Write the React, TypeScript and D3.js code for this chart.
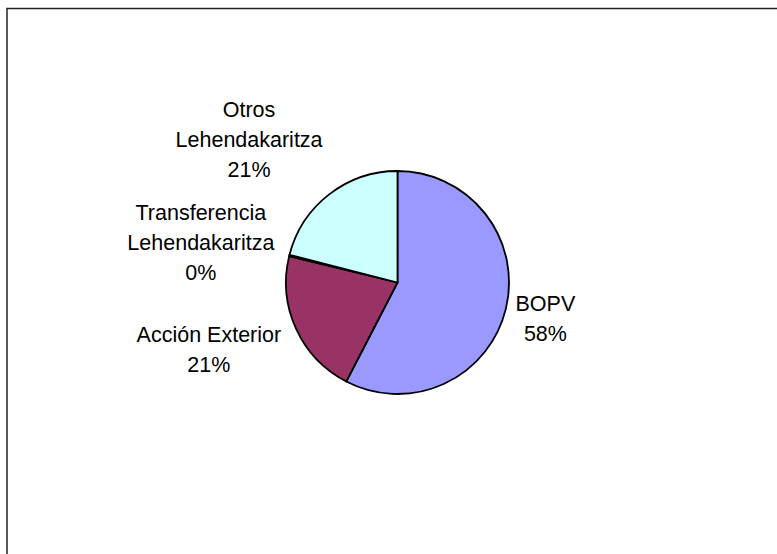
import { useMemo } from 'react';
import * as d3 from 'd3';

// Slice names (line-broken as in the original) and shares, clockwise from 12 o'clock
const categories = [
  ['BOPV'],
  ['Acción Exterior'],
  ['Transferencia', 'Lehendakaritza'],
  ['Otros', 'Lehendakaritza'],
];
const shares = [57.6, 21.2, 0.2, 21.0];
const sliceColors = ['#9999ff', '#993366', '#ffffcc', '#ccffff'];

const W = 777;
const H = 554;
const FONT = 'Liberation Sans, Arial, sans-serif';
const FONT_SIZE = 21.5;
const LINE_H = 30;

export default function App() {
  const cx = 397.5;
  const cy = 282.5;
  const radius = 111.5;
  const labelGap = 11.5;

  // small hand tweaks, like the "best fit" placement of the original
  const nudges: [number, number][] = [[8, 1], [-5, 6], [-6, 0], [-28, -14]];

  const arcs = useMemo(() => d3.pie<number>().sort(null).value(d => d)(shares), []);
  const arc = d3.arc<d3.PieArcDatum<number>>().innerRadius(0).outerRadius(radius);
  const total = d3.sum(shares);

  // rough Arial width estimate, only used to push labels clear of the pie
  const measure = (s: string) => s.length * 21 * 0.5;

  const labels = arcs.map((a, i) => {
    const mid = (a.startAngle + a.endAngle) / 2;
    const ux = Math.sin(mid);
    const uy = -Math.cos(mid);
    const pct = Math.round((a.value / total) * 1000) / 10;
    const lines = [...categories[i], `${Math.round(pct)}%`];
    const halfW = d3.max(lines, l => measure(l))! / 2;
    const halfH = (lines.length * LINE_H) / 2 - 5;
    const x = cx + ux * (radius + labelGap) + ux * halfW + nudges[i][0];
    const y = cy + uy * (radius + labelGap) + uy * halfH + nudges[i][1];
    return { x, y, lines };
  });

  return (
    <svg
      width={W}
      height={H}
      style={{ position: 'absolute', left: 0, top: 0, background: '#fff' }}
    >
      <rect x={7} y={8.5} width={W + 20} height={H + 20} fill="#fff" stroke="#222" strokeWidth={1.5} />
      <g transform={`translate(${cx},${cy})`}>
        {arcs.map((a, i) => (
          <path key={i} d={arc(a)!} fill={sliceColors[i]} stroke="#000" strokeWidth={1.8} strokeLinejoin="round" />
        ))}
      </g>
      {labels.map((l, i) => (
        <text
          key={i}
          x={l.x}
          textAnchor="middle"
          fontFamily={FONT}
          fontSize={FONT_SIZE}
          fill="#000"
        >
          {l.lines.map((line, j) => (
            <tspan
              key={j}
              x={l.x}
              y={l.y - ((l.lines.length - 1) * LINE_H) / 2 + j * LINE_H}
              dy="0.35em"
            >
              {line}
            </tspan>
          ))}
        </text>
      ))}
    </svg>
  );
}
